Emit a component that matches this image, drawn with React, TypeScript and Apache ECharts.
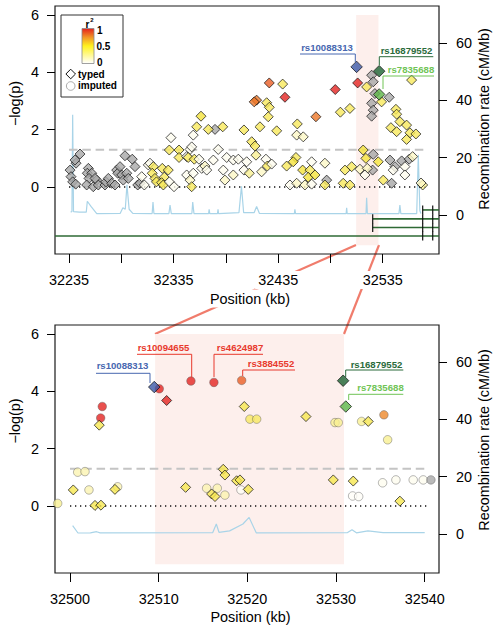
import React, { useEffect, useRef } from "react";
import * as echarts from "echarts";

// ---------------- data ----------------
const topTickValues = [32235, 32285, 32335, 32385, 32435, 32485, 32535];
const topTickLabels = [32235, 32335, 32435, 32535];
const bottomTickValues = [32500, 32510, 32520, 32530, 32540];
const logpTicks = [0, 2, 4, 6];
const recombTicks = [0, 20, 40, 60];

const topXRange = [32221.6, 32588.8];
const bottomXRange = [32498.31, 32541.61];
const logpRange = [-2.337, 6.314];
const recombRange = [-13.6, 72.9];

// top panel (all typed SNPs); r2 null = no LD information (grey)
const topPos = [
  32236.0, 32236.9, 32238.5, 32241.4, 32241.7, 32245.5, 32240.7, 32253.5, 32252.5, 32256.7,
  32254.1, 32251.9, 32258.2, 32261.5, 32263.0, 32259.9, 32269.4, 32270.4, 32272.6, 32275.8,
  32279.0, 32280.6, 32281.6, 32283.8, 32285.4, 32286.9, 32288.5, 32290.2, 32291.7, 32295.5,
  32298.1, 32300.7, 32302.9, 32374.6, 32481.4, 32524.4, 32525.9, 32527.5, 32541.2, 32524.4,
  32525.9, 32524.4, 32525.9, 32525.3, 32541.9, 32546.7, 32553.1, 32560.3, 32543.5,
  32304.5, 32307.0, 32310.8, 32312.4, 32315.6, 32314.6, 32317.2, 32318.6, 32324.2, 32326.1,
  32323.6, 32325.2, 32329.9, 32330.9, 32335.4, 32332.5, 32330.9, 32340.2, 32340.2, 32347.5,
  32350.7, 32352.3, 32349.0, 32354.8, 32359.3, 32353.8, 32357.1, 32361.2, 32368.2, 32382.0,
  32377.7, 32347.5, 32350.7, 32352.3, 32353.8, 32361.9, 32365.0, 32366.7, 32373.0, 32382.5,
  32384.1, 32385.8, 32392.1, 32392.1, 32396.9, 32402.3, 32404.9, 32407.4, 32413.8, 32419.2,
  32423.3, 32424.6, 32428.8, 32402.3, 32417.6, 32433.6, 32453.3, 32452.7, 32459.0, 32409.7,
  32412.8, 32426.5, 32439.3, 32414.4, 32412.1, 32424.0, 32426.5, 32441.5, 32425.5, 32471.1,
  32489.6, 32494.5, 32443.1, 32452.0, 32449.4, 32458.4, 32467.0, 32465.4, 32463.8, 32470.2,
  32479.7, 32446.3, 32452.7, 32460.6, 32467.0, 32479.7, 32511.0, 32519.6, 32533.9, 32562.6,
  32503.6, 32547.6, 32548.3, 32551.4, 32542.8, 32548.3, 32557.8, 32561.0, 32566.7, 32557.8,
  32516.3, 32518.9, 32530.7, 32505.3, 32498.9, 32513.2, 32520.2, 32518.0, 32556.2, 32563.6,
  32556.2, 32545.0, 32535.5, 32497.2, 32503.6, 32573.2, 32571.6,
];
const topLogP = [
  0.59, 0.36, 0.18, 0.10, 0.83, 1.15, 0.94, 0.65, 0.48, 0.48,
  0.30, 0.07, 0.01, 0.24, 0.07, 0.30, 0.07, 0.18, 0.30, 0.13,
  0.07, 0.59, 0.48, 0.71, 0.42, 0.24, 1.09, 0.48, 0.30, 0.97,
  0.71, 0.07, 0.13, 2.01, 0.24, 3.90, 3.67, 3.26, 3.13, 2.92,
  2.68, 2.47, 1.14, 0.59, 0.94, 0.71, 0.91, 0.97, 0.13,
  0.36, 0.07, 0.77, 0.83, 0.71, 0.48, 0.30, 0.18, 0.65, 0.34,
  0.15, 0.07, 0.59, 0.18, 0.01, 1.72, 1.29, 1.29, 1.03, 1.06,
  1.31, 1.40, 1.03, 0.97, 0.97, 1.81, 2.10, 2.47, 2.01, 2.10,
  1.31, 0.42, 0.24, 0.01, 0.48, 0.65, 0.73, 0.59, 0.94, 0.59,
  0.24, 1.03, 0.94, 0.42, 0.97, 0.59, 0.88, 0.48, 1.11, 0.53,
  0.97, 0.73, 0.80, 1.99, 2.10, 1.96, 2.20, 1.81, 1.75, 1.58,
  1.43, 3.63, 3.59, 3.03, 2.97, 2.94, 2.78, 3.13, 2.45, 2.45,
  3.40, 2.61, 0.73, 1.03, 0.88, 0.59, 0.88, 0.59, 0.34, 0.42,
  0.83, 0.07, 0.13, 0.07, 0.10, 0.07, 3.63, 3.49, 2.97, 3.73,
  2.74, 2.71, 2.54, 2.28, 2.07, 1.93, 2.16, 1.89, 1.85, 1.66,
  1.29, 1.00, 0.88, 0.71, 0.59, 0.62, 0.65, 0.42, 0.71, 1.06,
  0.42, 0.59, 0.24, 0.13, 0.07, 0.07, 0.14,
];
const N = null;
const topR2 = [
  N, N, N, N, N, N, N, N, N, N,
  N, N, N, N, N, N, N, N, N, N,
  N, N, N, N, N, N, N, N, N, N,
  N, N, N, N, N, N, N, N, N, N,
  N, N, N, N, N, N, N, N, N,
  0.04, 0.04, 0.04, 0.04, 0.42, 0.42, 0.42, 0.42, 0.42, 0.42,
  0.42, 0.42, 0.42, 0.04, 0.04, 0.04, 0.42, 0.42, 0.42, 0.04,
  0.04, 0.04, 0.42, 0.42, 0.04, 0.04, 0.42, 0.5, 0.42, 0.42,
  0.04, 0.04, 0.15, 0.42, 0.04, 0.04, 0.15, 0.04, 0.04, 0.04,
  0.15, 0.04, 0.04, 0.15, 0.04, 0.04, 0.04, 0.28, 0.28, 0.15,
  0.04, 0.42, 0.04, 0.42, 0.42, 0.42, 0.42, 0.15, 0.15, 0.42,
  0.42, 0.86, 0.42, 0.8, 0.8, 0.42, 0.42, 1.0, 0.42, 0.8,
  1.0, 0.42, 0.42, 0.42, 0.5, 0.5, 0.04, 0.42, 0.5, 0.5,
  0.15, 0.04, 0.15, 0.15, 0.04, 0.42, 1.0, 0.42, 0.42, 0.42,
  0.42, 0.42, 0.42, 0.42, 0.42, 0.42, 0.42, 0.42, 0.42, 0.42,
  0.5, 0.5, 0.5, 0.42, 0.42, 0.15, 0.15, 0.04, 0.04, 0.15,
  0.04, 0.04, 0.42, 0.42, 0.42, 0.28, 0.15,
];

// highlighted SNPs
const snpNames = ["rs10088313", "rs16879552", "rs7835688"];
const snpColors = ["#3b57a6", "#1d6332", "#5cb547"];
const snpLabelColors = ["#4767b0", "#2a6b3b", "#70c455"];
const topSnpPos = [32510.0, 32531.6, 32531.6];
const topSnpLogP = [4.19, 4.04, 3.23];
const bottomSnpPos = [32509.5, 32530.8, 32531.1];
const bottomSnpLogP = [4.15, 4.37, 3.47];

// bottom panel; typed 1 = genotyped (diamond), 0 = imputed (circle)
const bottomPos = [
  32503.30, 32510.90, 32519.65, 32526.61, 32533.63, 32517.28, 32517.47, 32518.79, 32519.17, 32520.10,
  32513.04, 32515.97, 32516.35, 32500.37, 32505.07, 32502.82, 32503.49, 32529.69, 32531.94, 32537.20,
  32510.07, 32513.64, 32516.23, 32519.36, 32503.64, 32503.46, 32520.29, 32521.05, 32529.88, 32530.25,
  32532.88, 32535.40, 32535.82, 32500.87, 32501.69, 32502.14, 32505.37, 32498.61, 32515.41, 32516.61,
  32517.47, 32519.28, 32531.87, 32532.55, 32535.25, 32536.75, 32538.70, 32539.83, 32540.70,
];
const bottomLogP = [
  2.82, 3.68, 3.47, 3.12, 2.95, 1.28, 1.08, 0.88, 0.91, 0.58,
  0.65, 0.42, 0.33, 0.56, 0.58, 0.02, 0.03, 0.91, 0.87, 0.17,
  4.09, 4.36, 4.31, 4.38, 3.47, 3.07, 3.03, 3.03, 2.91, 2.91,
  2.95, 3.18, 2.31, 1.18, 1.20, 0.56, 0.67, 0.09, 0.62, 0.62,
  0.38, 0.56, 0.35, 0.33, 0.81, 0.91, 0.91, 0.91, 0.91,
];
const bottomR2 = [
  0.45, 1.0, 0.45, 0.45, 0.45, 0.45, 0.45, 0.45, 0.45, 0.45,
  0.45, 0.45, 0.45, 0.45, 0.45, 0.45, 0.45, 0.45, 0.45, 0.45,
  1.0, 1.0, 1.0, 0.86, 1.0, 1.0, 0.40, 0.40, 0.28, 0.28,
  0.28, 0.76, 0.28, 0.2, 0.2, 0.2, 0.2, 0.28, 0.2, 0.2,
  0.2, 0.02, 0.02, 0.02, 0.04, 0.04, 0.04, 0.04, N,
];
const bottomTyped = [
  1, 1, 1, 1, 1, 1, 1, 1, 1, 1,
  1, 1, 1, 1, 1, 1, 1, 1, 1, 1,
  0, 0, 0, 0, 0, 0, 0, 0, 0, 0,
  0, 0, 0, 0, 0, 0, 0, 0, 0, 0,
  0, 0, 0, 0, 0, 0, 0, 0, 0,
];

// recombination rate (cM/Mb)
const topRecPos = [
  32236.6, 32237.8, 32238.5, 32239.3, 32245.0, 32251.5, 32252.5, 32256.0, 32261.5, 32284.0,
  32286.5, 32288.8, 32290.4, 32292.5, 32296.0, 32314.5, 32315.3, 32316.2, 32330.5, 32331.6,
  32332.8, 32352.5, 32353.3, 32354.5, 32368.5, 32369.0, 32369.6, 32377.0, 32377.5, 32378.0,
  32397.5, 32399.9, 32402.0, 32412.0, 32414.4, 32417.0, 32450.5, 32451.0, 32451.6, 32500.0,
  32500.5, 32501.0, 32519.0, 32519.6, 32520.3, 32550.5, 32551.4, 32552.3, 32567.5, 32569.0,
  32570.5, 32571.5,
];
const topRecRate = [
  1.0, 1.2, 35, 1.2, 1.0, 1.0, 4.8, 3.0, 0.5, 0.6,
  2.5, 2.0, 10.5, 2.0, 0.6, 0.5, 4.5, 0.5, 0.5, 3.5,
  0.5, 0.5, 4.5, 0.5, 0.5, 2.0, 0.5, 0.5, 2.0, 0.5,
  0.8, 10, 0.8, 0.8, 3.0, 0.6, 0.5, 2.0, 0.5, 0.5,
  2.5, 0.5, 0.5, 6.0, 0.5, 0.5, 3.5, 0.5, 0.5, 21,
  1.5, 0.5,
];
const bottomRecPos = [
  32500.3, 32500.9, 32502.3, 32503.0, 32503.4, 32516.1, 32516.5, 32516.8, 32518.0, 32519.5,
  32520.2, 32521.0, 32531.3, 32531.8, 32532.3, 32533.6, 32535.3, 32540.0,
];
const bottomRecRate = [
  2.9, 0.35, 0.4, 0.8, 0.4, 0.5, 3.5, 0.6, 1.1, 3.5,
  5.8, 0.4, 0.5, 1.5, 0.4, 1.1, 0.5, 0.5,
];

// genes (top panel, drawn in -log(p) units below zero)
const geneStart = [32573.2, 32525.4, 32525.4, 32200.0];
const geneEnd = [32600.0, 32600.0, 32600.0, 32600.0];
const geneRow = [-0.80, -1.11, -1.41, -1.71];
const exonPos = [32573.2, 32582.8, 32525.4, 32573.2, 32582.8, 32525.4, 32573.2, 32582.8, 32573.2, 32582.8];
const exonRow = [-0.80, -0.80, -1.11, -1.11, -1.11, -1.41, -1.41, -1.41, -1.71, -1.71];

const zoomRegionPos = [32509.6, 32530.9];
const zoomRegionLogP = [-2.03, 6.0];
const significance = 1.3;
const topRefRange = [32235, 32577];
const bottomRefRange = [32500, 32540.2];

// ---------------- helpers ----------------
const FONT = '"Liberation Sans", Arial, Helvetica, sans-serif';
const stops: [number, number[]][] = [
  [0, [255, 255, 255]],
  [0.5, [245, 228, 60]],
  [0.75, [238, 140, 42]],
  [1, [228, 36, 34]],
];
function r2Color(r: number | null) {
  if (r == null) return "#a8a8a8";
  for (let i = 1; i < stops.length; i++) {
    if (r <= stops[i][0]) {
      const [a, ca] = stops[i - 1];
      const [b, cb] = stops[i];
      const t = (r - a) / (b - a);
      const c = ca.map((v, k) => Math.round(v + (cb[k] - v) * t));
      return `rgb(${c[0]},${c[1]},${c[2]})`;
    }
  }
  return "rgb(228,36,34)";
}

function buildOption() {
  const axisLabelStyle = { fontSize: 14.4, color: "#000", fontFamily: FONT };
  const tickStyle = { color: "#000", width: 1 };

  const xAxes = [
    {
      gridIndex: 0, type: "value", min: topXRange[0], max: topXRange[1],
      axisLine: { show: false, onZero: false }, splitLine: { show: false },
      axisTick: { show: true, length: 9, lineStyle: tickStyle, customValues: topTickValues },
      axisLabel: { ...axisLabelStyle, margin: 17, customValues: topTickLabels, backgroundColor: "#fff", padding: [2, 3, 2, 3], formatter: (v: number) => String(v) },
    },
    {
      gridIndex: 1, type: "value", min: bottomXRange[0], max: bottomXRange[1],
      axisLine: { show: false, onZero: false }, splitLine: { show: false },
      axisTick: { show: true, length: 9, lineStyle: tickStyle, customValues: bottomTickValues },
      axisLabel: { ...axisLabelStyle, margin: 19, customValues: bottomTickValues, formatter: (v: number) => String(v) },
    },
  ];
  const mkY = (grid: number, right: boolean) => ({
    gridIndex: grid, type: "value", position: right ? "right" : "left",
    min: right ? recombRange[0] : logpRange[0], max: right ? recombRange[1] : logpRange[1],
    axisLine: { show: false, onZero: false }, splitLine: { show: false },
    axisTick: { show: true, length: 8, lineStyle: tickStyle, customValues: right ? recombTicks : logpTicks },
    axisLabel: { ...axisLabelStyle, margin: right ? 17 : 16, customValues: right ? recombTicks : logpTicks },
  });
  const yAxes = [mkY(0, false), mkY(0, true), mkY(1, false), mkY(1, true)];

  const series: any[] = [];
  const panels = [
    { grid: 0, yl: 0, yr: 1, rec: [topRecPos, topRecRate], ref: topRefRange },
    { grid: 1, yl: 2, yr: 3, rec: [bottomRecPos, bottomRecRate], ref: bottomRefRange },
  ];
  panels.forEach((p) => {
    series.push({
      type: "custom", xAxisIndex: p.grid, yAxisIndex: p.yl, z: 1, silent: true,
      renderItem: (params: any, api: any) => {
        const a = api.coord([api.value(0), api.value(3)]);
        const b = api.coord([api.value(1), api.value(2)]);
        return { type: "rect", shape: { x: a[0], y: a[1], width: b[0] - a[0], height: b[1] - a[1] }, style: { fill: "#fdefec" } };
      },
      data: [[zoomRegionPos[0], zoomRegionPos[1], zoomRegionLogP[0], zoomRegionLogP[1]]],
    });
    series.push({
      type: "line", xAxisIndex: p.grid, yAxisIndex: p.yr, z: 2, symbol: "none", silent: true,
      lineStyle: { color: "#a9d4e8", width: 1.2 },
      data: p.rec[0].map((x, i) => [x, p.rec[1][i]]),
    });
    series.push({
      type: "line", xAxisIndex: p.grid, yAxisIndex: p.yl, z: 2, symbol: "none", silent: true,
      lineStyle: { color: "#111", width: 1.4, type: [1.3, 3.7] },
      data: [[p.ref[0], 0], [p.ref[1], 0]],
    });
    series.push({
      type: "line", xAxisIndex: p.grid, yAxisIndex: p.yl, z: 2, symbol: "none", silent: true,
      lineStyle: { color: "#c4c4c4", width: 2, type: [8.5, 4.8] },
      data: [[p.ref[0], significance], [p.ref[1], significance]],
    });
  });

  // genes
  series.push({
    type: "custom", xAxisIndex: 0, yAxisIndex: 0, z: 2, silent: true,
    renderItem: (params: any, api: any) => {
      const s = api.coord([api.value(0), api.value(2)]);
      const e = api.coord([api.value(1), api.value(2)]);
      const cs = params.coordSys;
      return {
        type: "line",
        shape: { x1: Math.max(s[0], cs.x), y1: s[1], x2: Math.min(e[0], cs.x + cs.width), y2: s[1] },
        style: { stroke: "#2e6a34", lineWidth: 1.6 },
      };
    },
    data: geneStart.map((s, i) => [s, geneEnd[i], geneRow[i]]),
  });
  series.push({
    type: "custom", xAxisIndex: 0, yAxisIndex: 0, z: 3, silent: true,
    renderItem: (params: any, api: any) => {
      const c = api.coord([api.value(0), api.value(1)]);
      return { type: "line", shape: { x1: c[0], y1: c[1] - 4.5, x2: c[0], y2: c[1] + 4.5 }, style: { stroke: "#111", lineWidth: 1.2 } };
    },
    data: exonPos.map((x, i) => [x, exonRow[i]]),
  });

  // top scatter
  series.push({
    type: "scatter", xAxisIndex: 0, yAxisIndex: 0, z: 4, symbol: "diamond", symbolSize: 10, silent: true,
    itemStyle: { borderColor: "#111", borderWidth: 0.9 },
    data: topPos.map((x, i) => ({ value: [x, topLogP[i]], itemStyle: { color: r2Color(topR2[i]) } })),
  });
  series.push({
    type: "scatter", xAxisIndex: 0, yAxisIndex: 0, z: 5, symbol: "diamond", symbolSize: 11.5, silent: true,
    itemStyle: { borderColor: "#111", borderWidth: 0.9 },
    data: topSnpPos.map((x, i) => ({ value: [x, topSnpLogP[i]], itemStyle: { color: snpColors[i] } })),
  });

  // bottom scatter: imputed circles then typed diamonds
  series.push({
    type: "scatter", xAxisIndex: 1, yAxisIndex: 2, z: 4, symbol: "circle", symbolSize: 8.5, silent: true,
    itemStyle: { borderColor: "rgba(90,90,90,0.55)", borderWidth: 1 },
    data: bottomPos
      .map((x, i) => ({ i, x }))
      .filter((d) => bottomTyped[d.i] === 0)
      .map((d) => ({ value: [d.x, bottomLogP[d.i]], itemStyle: { color: r2Color(bottomR2[d.i]) } })),
  });
  series.push({
    type: "scatter", xAxisIndex: 1, yAxisIndex: 2, z: 5, symbol: "diamond", symbolSize: 10, silent: true,
    itemStyle: { borderColor: "#111", borderWidth: 0.9 },
    data: bottomPos
      .map((x, i) => ({ i, x }))
      .filter((d) => bottomTyped[d.i] === 1)
      .map((d) => ({ value: [d.x, bottomLogP[d.i]], itemStyle: { color: r2Color(bottomR2[d.i]) } })),
  });
  series.push({
    type: "scatter", xAxisIndex: 1, yAxisIndex: 2, z: 6, symbol: "diamond", symbolSize: 11.5, silent: true,
    itemStyle: { borderColor: "#111", borderWidth: 0.9 },
    data: bottomSnpPos.map((x, i) => ({ value: [x, bottomSnpLogP[i]], itemStyle: { color: snpColors[i] } })),
  });

  // ---------- graphic annotations ----------
  const g: any[] = [];
  const txt = (x: number, y: number, text: string, o: any = {}) => ({
    type: "text", x, y, rotation: o.rotation || 0, z: o.z ?? 10,
    style: {
      text, fill: o.fill || "#000", fontSize: o.fontSize || 14.4, fontWeight: o.fontWeight || "normal",
      fontFamily: FONT, align: o.align || "center", verticalAlign: "middle",
      textAlign: o.align || "center", textVerticalAlign: "middle",
      backgroundColor: o.bg, padding: o.bg ? [2, 3, 2, 3] : undefined,
    },
  });
  const ln = (x1: number, y1: number, x2: number, y2: number, stroke: string, w = 1, z = 10) => ({
    type: "line", z, shape: { x1, y1, x2, y2 }, style: { stroke, lineWidth: w },
  });

  // zoom connectors (behind the axis labels)
  g.push(ln(356, 245, 155, 334, "#f07c6c", 2.2, -1));
  g.push(ln(379, 245, 344, 334, "#f07c6c", 2.2, -1));

  // axis titles
  g.push(txt(14.5, 103.5, "\u2212log(p)", { rotation: Math.PI / 2 }));
  g.push(txt(14.5, 421, "\u2212log(p)", { rotation: Math.PI / 2 }));
  g.push(txt(483.5, 119, "Recombination rate (cM/Mb)", { rotation: Math.PI / 2 }));
  g.push(txt(483.5, 440, "Recombination rate (cM/Mb)", { rotation: Math.PI / 2 }));
  g.push(txt(250, 298.5, "Position (kb)", { bg: "#fff" }));
  g.push(txt(250.5, 616.5, "Position (kb)"));

  // SNP labels
  const lab = (cx: number, cy: number, text: string, color: string, hx1: number, hx2: number, hy: number, vx: number, vy2: number) => {
    g.push(txt(cx, cy, text, { fill: color, fontSize: 9.6, fontWeight: "bold" }));
    g.push(ln(hx1, hy, hx2, hy, color, 1));
    g.push(ln(vx, hy, vx, vy2, color, 1));
  };
  // top panel
  lab(327, 47.5, snpNames[0], snpLabelColors[0], 300, 355.3, 54, 355.3, 62);
  lab(406.5, 50.5, snpNames[1], snpLabelColors[1], 379.3, 433.3, 56.7, 379.3, 65);
  lab(411, 69.5, snpNames[2], snpLabelColors[2], 383, 434, 76, 383, 89);
  // bottom panel
  lab(122.5, 365.7, snpNames[0], snpLabelColors[0], 96, 150, 373.3, 150, 383);
  lab(163.5, 347.3, "rs10094655", "#e8392c", 137, 191.7, 354.3, 191.7, 377.3);
  lab(240, 347.3, "rs4624987", "#e8392c", 214, 263, 354.3, 214, 377);
  lab(271, 363.3, "rs3884552", "#e8392c", 242.7, 295, 370, 242.7, 376);
  lab(376.5, 364, snpNames[1], snpLabelColors[1], 345.7, 403.3, 370, 345.7, 377);
  lab(380.5, 387.7, snpNames[2], snpLabelColors[2], 348.7, 403.3, 394.3, 348.7, 400);

  // legend
  g.push({ type: "rect", z: 10, shape: { x: 61, y: 15, width: 62, height: 82 }, style: { fill: "#fff", stroke: "#333", lineWidth: 1 } });
  g.push(txt(87.5, 24, "r", { fontSize: 10, fontWeight: "bold", z: 11 }));
  g.push(txt(91.8, 19.5, "2", { fontSize: 6, fontWeight: "bold", z: 11 }));
  g.push({
    type: "rect", z: 11, shape: { x: 82, y: 28.5, width: 12, height: 35 },
    style: {
      stroke: "#888", lineWidth: 0.8,
      fill: new echarts.graphic.LinearGradient(0, 0, 0, 1, [
        { offset: 0, color: "#e4201c" },
        { offset: 0.25, color: "#f29426" },
        { offset: 0.5, color: "#fff21e" },
        { offset: 1, color: "#ffffff" },
      ]),
    },
  });
  g.push(txt(97, 30.5, "1", { fontSize: 10, fontWeight: "bold", align: "left", z: 11 }));
  g.push(txt(96.5, 46.5, "0.5", { fontSize: 10, fontWeight: "bold", align: "left", z: 11 }));
  g.push(txt(97, 62.5, "0", { fontSize: 10, fontWeight: "bold", align: "left", z: 11 }));
  g.push({ type: "polygon", z: 11, shape: { points: [[70.7, 69.2], [75.5, 74], [70.7, 78.8], [65.9, 74]] }, style: { fill: "#fff", stroke: "#111", lineWidth: 1 } });
  g.push(txt(78, 74, "typed", { fontSize: 10, fontWeight: "bold", align: "left", z: 11 }));
  g.push({ type: "circle", z: 11, shape: { cx: 70.7, cy: 86, r: 4.3 }, style: { fill: "#fff", stroke: "#aaa", lineWidth: 1 } });
  g.push(txt(78, 85.5, "imputed", { fontSize: 10, fontWeight: "bold", align: "left", z: 11 }));

  return {
    animation: false,
    backgroundColor: "#fff",
    textStyle: { fontFamily: FONT },
    grid: [
      { left: 55, right: 59, top: 6, height: 248, show: true, borderColor: "#1a1a1a", borderWidth: 1.2, backgroundColor: "transparent" },
      { left: 55, right: 59, top: 325, height: 248, show: true, borderColor: "#1a1a1a", borderWidth: 1.2, backgroundColor: "transparent" },
    ],
    xAxis: xAxes,
    yAxis: yAxes,
    series,
    graphic: { elements: g },
  };
}

export default function App() {
  const ref = useRef<HTMLDivElement>(null);
  useEffect(() => {
    if (!ref.current) return;
    const chart = echarts.init(ref.current, null, { renderer: "svg" });
    chart.setOption(buildOption() as any);
    return () => chart.dispose();
  }, []);
  return (
    <div
      ref={ref}
      style={{ position: "absolute", left: 0, top: 0, width: 498, height: 633, background: "#fff" }}
    />
  );
}
